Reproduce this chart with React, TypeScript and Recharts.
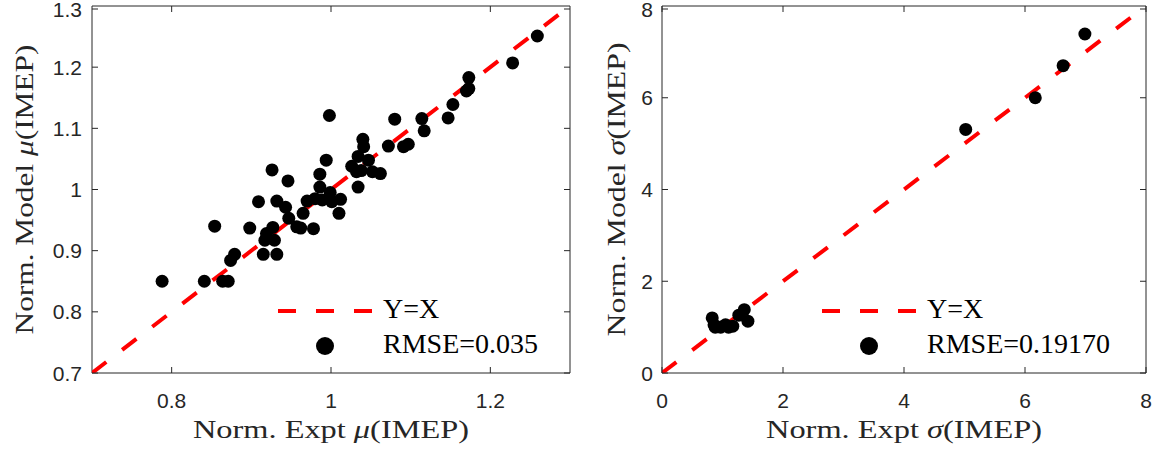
import React from 'react';
import { ScatterChart, Scatter, XAxis, YAxis, ReferenceLine } from 'recharts';

// left panel: normalised mean IMEP
const muExpt = [
  0.998, 1.080, 1.114, 1.117, 1.040, 1.041, 1.072, 1.091, 1.097, 0.994,
  1.034, 1.047, 1.026, 1.032, 1.038, 1.052, 1.062, 1.034, 0.926, 0.946,
  0.986, 0.986, 0.999, 0.970, 0.980, 0.989, 1.001, 1.012, 1.010, 0.965,
  0.909, 0.932, 0.943, 0.947, 0.957, 0.978, 0.898, 0.927, 0.919, 0.917,
  0.929, 0.915, 0.932, 0.854, 0.879, 0.874, 0.788, 0.841, 0.864, 0.871,
  1.147, 1.153, 1.170, 1.173, 1.173, 1.228, 1.259, 0.962,
];
const muModel = [
  1.121, 1.115, 1.116, 1.096, 1.082, 1.070, 1.071, 1.070, 1.074, 1.048,
  1.054, 1.048, 1.038, 1.029, 1.031, 1.029, 1.026, 1.004, 1.032, 1.014,
  1.025, 1.004, 0.995, 0.981, 0.985, 0.983, 0.980, 0.984, 0.961, 0.961,
  0.980, 0.981, 0.971, 0.953, 0.939, 0.936, 0.937, 0.938, 0.928, 0.917,
  0.917, 0.894, 0.894, 0.940, 0.894, 0.884, 0.850, 0.850, 0.850, 0.850,
  1.117, 1.139, 1.161, 1.165, 1.183, 1.207, 1.251, 0.937,
];

// right panel: normalised std of IMEP
const sigmaExpt = [0.83, 0.86, 0.88, 0.97, 1.05, 1.10, 1.17, 1.27, 1.36, 1.42, 5.02, 6.17, 6.63, 6.99];
const sigmaModel = [1.20, 1.05, 1.00, 1.00, 1.05, 1.00, 1.02, 1.26, 1.38, 1.13, 5.31, 6.00, 6.70, 7.39];

const muXTicks = [0.8, 1, 1.2];
const muYTicks = [0.7, 0.8, 0.9, 1, 1.1, 1.2, 1.3];
const muDomain = [0.7, 1.3];
const sigmaTicks = [0, 2, 4, 6, 8];
const sigmaDomain = [0, 8];

const legendLine = 'Y=X';
const muRmse = 'RMSE=0.035';
const sigmaRmse = 'RMSE=0.19170';

const muData = muExpt.map((x, i) => ({ x, y: muModel[i] }));
const sigmaData = sigmaExpt.map((x, i) => ({ x, y: sigmaModel[i] }));
const muDiag = muDomain.map((v) => ({ x: v, y: v }));
const sigmaDiag = sigmaDomain.map((v) => ({ x: v, y: v }));

const AXIS = '#262626';
const TICK_FONT = '"Liberation Sans", Arial, sans-serif';
const SERIF = '"Liberation Serif", "Times New Roman", serif';
const PLOT_TOP = 6;
const PLOT_H = 367;
const TICK_LEN = 6;

const dot = (p: any) => <circle cx={p.cx} cy={p.cy} r={6.5} fill="#000" />;
const noDot = () => <g />;

const fmt = (v: number) => String(v);

const makeXTick = (plotH: number) => (p: any) => (
  <g>
    <line x1={p.x} y1={p.y} x2={p.x} y2={p.y - TICK_LEN} stroke={AXIS} />
    <line x1={p.x} y1={p.y - plotH} x2={p.x} y2={p.y - plotH + TICK_LEN} stroke={AXIS} />
    <text x={p.x} y={p.y + 35} textAnchor="middle" fill={AXIS} fontSize={21} fontFamily={TICK_FONT}>
      {fmt(p.payload.value)}
    </text>
  </g>
);

const makeYTick = (plotW: number, gap: number) => (p: any) => (
  <g>
    <line x1={p.x} y1={p.y} x2={p.x + TICK_LEN} y2={p.y} stroke={AXIS} />
    <line x1={p.x + plotW} y1={p.y} x2={p.x + plotW - TICK_LEN} y2={p.y} stroke={AXIS} />
    <text x={p.x - gap} y={p.y} dy="0.36em" textAnchor="end" fill={AXIS} fontSize={21} fontFamily={TICK_FONT}>
      {fmt(p.payload.value)}
    </text>
  </g>
);

const makeXLabel = (sym: string, len: number) => (props: any) => {
  const vb = props.viewBox;
  return (
    <text
      x={vb.x + vb.width / 2}
      y={vb.y + 65}
      textAnchor="middle"
      fontSize={26}
      fontFamily={SERIF}
      fill={AXIS}
      textLength={len}
      lengthAdjust="spacingAndGlyphs"
    >
      Norm. Expt <tspan fontStyle="italic">{sym}</tspan>(IMEP)
    </text>
  );
};

const makeYLabel = (sym: string, len: number, bx: number) => (props: any) => {
  const vb = props.viewBox;
  const cx = vb.x + bx;
  const cy = vb.y + vb.height / 2;
  return (
    <text
      x={cx}
      y={cy}
      transform={`rotate(-90 ${cx} ${cy})`}
      textAnchor="middle"
      fontSize={26}
      fontFamily={SERIF}
      fill={AXIS}
      textLength={len}
      lengthAdjust="spacingAndGlyphs"
    >
      Norm. Model <tspan fontStyle="italic">{sym}</tspan>(IMEP)
    </text>
  );
};

const LegendBox = ({ left, rmse }: { left: number; rmse: string }) => (
  <svg width={300} height={80} style={{ position: 'absolute', left, top: 290 }}>
    <line x1={8} y1={21} x2={102} y2={21} stroke="#ff0000" strokeWidth={4} strokeDasharray="18 20" />
    <text x={113} y={28} fontSize={28} fontFamily={SERIF} fill="#000">{legendLine}</text>
    <circle cx={55} cy={56} r={9} fill="#000" />
    <text x={113} y={63} fontSize={28} fontFamily={SERIF} fill="#000">{rmse}</text>
  </svg>
);

export default function App() {
  return (
    <div style={{ position: 'absolute', left: 0, top: 0, width: 1163, height: 454, background: '#fff', overflow: 'hidden' }}>
      <div style={{ position: 'absolute', left: 0, top: 0 }}>
        <ScatterChart width={580} height={454} margin={{ top: PLOT_TOP, right: 10, bottom: 0, left: 0 }}>
          <XAxis
            type="number"
            dataKey="x"
            domain={muDomain}
            ticks={muXTicks}
            allowDataOverflow
            height={81}
            tickSize={0}
            tickMargin={0}
            tickLine={false}
            axisLine={{ stroke: AXIS }}
            tick={makeXTick(PLOT_H)}
            label={makeXLabel('μ', 276)}
          />
          <YAxis
            type="number"
            dataKey="y"
            domain={muDomain}
            ticks={muYTicks}
            allowDataOverflow
            width={92}
            tickSize={0}
            tickMargin={0}
            tickLine={false}
            axisLine={{ stroke: AXIS }}
            tick={makeYTick(478, 10)}
            label={makeYLabel('μ', 290, 33)}
          />
          <ReferenceLine y={1.3} stroke={AXIS} />
          <ReferenceLine x={1.3} stroke={AXIS} />
          <Scatter
            data={muDiag}
            shape={noDot}
            line={{ stroke: '#ff0000', strokeWidth: 4, strokeDasharray: '18 20' }}
            isAnimationActive={false}
          />
          <Scatter data={muData} shape={dot} fill="#000" isAnimationActive={false} />
        </ScatterChart>
      </div>
      <div style={{ position: 'absolute', left: 580, top: 0 }}>
        <ScatterChart width={583} height={454} margin={{ top: PLOT_TOP, right: 17, bottom: 0, left: 0 }}>
          <XAxis
            type="number"
            dataKey="x"
            domain={sigmaDomain}
            ticks={sigmaTicks}
            allowDataOverflow
            height={81}
            tickSize={0}
            tickMargin={0}
            tickLine={false}
            axisLine={{ stroke: AXIS }}
            tick={makeXTick(PLOT_H)}
            label={makeXLabel('σ', 276)}
          />
          <YAxis
            type="number"
            dataKey="y"
            domain={sigmaDomain}
            ticks={sigmaTicks}
            allowDataOverflow
            width={82}
            tickSize={0}
            tickMargin={0}
            tickLine={false}
            axisLine={{ stroke: AXIS }}
            tick={makeYTick(484, 9)}
            label={makeYLabel('σ', 294, 45)}
          />
          <ReferenceLine y={8} stroke={AXIS} />
          <ReferenceLine x={8} stroke={AXIS} />
          <Scatter
            data={sigmaDiag}
            shape={noDot}
            line={{ stroke: '#ff0000', strokeWidth: 4, strokeDasharray: '18 20' }}
            isAnimationActive={false}
          />
          <Scatter data={sigmaData} shape={dot} fill="#000" isAnimationActive={false} />
        </ScatterChart>
      </div>
      <LegendBox left={270} rmse={muRmse} />
      <LegendBox left={814} rmse={sigmaRmse} />
    </div>
  );
}
